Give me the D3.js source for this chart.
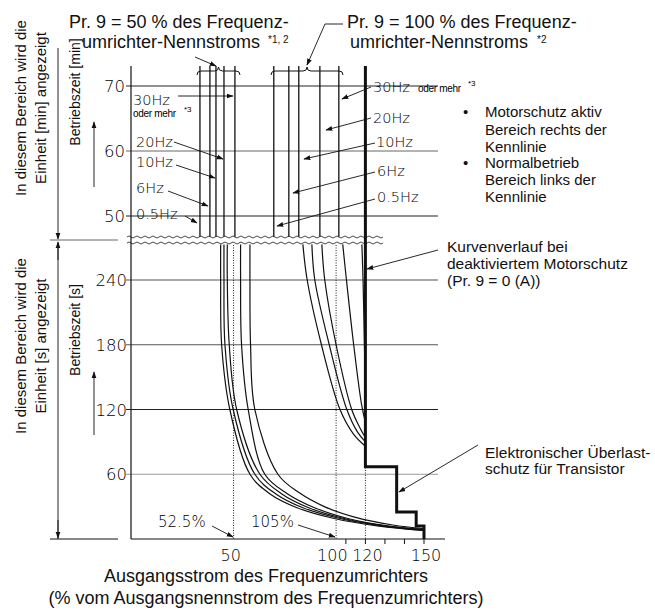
<!DOCTYPE html>
<html>
<head>
<meta charset="utf-8">
<script src="https://cdn.jsdelivr.net/npm/d3@7"></script>
<style>
  body { margin: 0; background: #fff; }
  svg { display: block; }
  .sans { font-family: "Liberation Sans", Arial, sans-serif; }
  .geo { font-family: "DejaVu Sans", sans-serif; font-weight: 300; }
</style>
</head>
<body>
<div id="chart"></div>
<script>
// frequency labels for the curve families
var freqs = ["0.5Hz", "6Hz", "10Hz", "20Hz", "30Hz"];

// minute range: current (%) of each vertical line, Pr.9 = 50 % and 100 %
var min50 = [35.3, 40.4, 43.5, 47.6, 53.2];
var min100 = [73.1, 80.8, 85.9, 96.7, 106.4];

// second range: curves as [current %, seconds]
var sec50 = [
  [[45.9, 273], [45.9, 240], [46.4, 180], [50.6, 120], [60.9, 60], [71, 42], [85, 29], [104, 19], [127, 12], [150, 8]],
  [[47.6, 273], [47.6, 240], [48.1, 180], [52.3, 120], [63.4, 60], [74, 42], [88, 29], [107, 19], [129, 12], [150, 8]],
  [[49.3, 273], [49.3, 240], [50.3, 180], [54.1, 120], [66.0, 60], [77, 42], [91, 29], [109, 19], [131, 12], [150, 8.5]],
  [[56.1, 273], [56.1, 240], [56.6, 180], [60.0, 120], [68.5, 60], [80, 42], [94, 29], [111, 19], [132, 12], [150, 9]],
  [[60.9, 273], [60.9, 240], [61.2, 180], [63.4, 120], [75.2, 60], [86, 43], [99, 30], [115, 20], [134, 13], [150, 9.5]]
];
var sec100 = [
  [[88.0, 273], [90.2, 240], [97.5, 180], [107, 120], [114, 97], [120, 86]],
  [[92.6, 273], [94.1, 240], [101.5, 180], [110.5, 120], [116, 99], [120, 90]],
  [[97.7, 273], [99.2, 240], [105, 180], [113, 120], [117.5, 102], [120, 94]],
  [[108.4, 273], [110.3, 240], [114, 180], [118, 125], [120, 108]],
  [[118.2, 273], [118.8, 240], [119.5, 180], [120, 140]]
];

// transistor overload protection steps [current %, seconds]
var transistor = [[120, 67], [136, 67], [136, 25], [146, 25], [146, 12], [150, 12], [150, 0]];

var minTicks = [50, 60, 70];
var secTicks = [60, 120, 180, 240];
var xLabels = [50, 100, 120, 150];
var xTicks = [110, 120, 130, 140, 150];

var W = 655, H = 610;
var svg = d3.select("#chart").append("svg").attr("width", W).attr("height", H);

var defs = svg.append("defs");
defs.append("marker").attr("id", "arr")
  .attr("viewBox", "0 0 10 10").attr("refX", 9).attr("refY", 5)
  .attr("markerWidth", 7).attr("markerHeight", 7).attr("orient", "auto")
  .attr("markerUnits", "userSpaceOnUse")
  .append("path").attr("d", "M0,1.5 L10,5 L0,8.5 Z").attr("fill", "#111");

var x = d3.scaleLinear().domain([0, 150]).range([131, 424]);
var ySec = d3.scaleLinear().domain([0, 240]).range([539, 280]);
var yMin = d3.scaleLinear().domain([50, 70]).range([216, 86]);

var left = 131, gridRight = 438, topY = 66, breakTop = 237, breakBot = 243, bottom = 539;

// grid lines
var grid = svg.append("g");
minTicks.forEach(function (t) {
  grid.append("line").attr("x1", left - 5).attr("x2", gridRight)
    .attr("y1", yMin(t)).attr("y2", yMin(t))
    .attr("stroke", t == 60 ? "#666" : "#222").attr("stroke-width", 1);
});
secTicks.forEach(function (t) {
  grid.append("line").attr("x1", left - 5).attr("x2", gridRight)
    .attr("y1", ySec(t)).attr("y2", ySec(t))
    .attr("stroke", t == 60 ? "#999" : (t == 120 ? "#222" : "#555")).attr("stroke-width", 1);
});

// dotted reference lines
[52.5, 105, 120].forEach(function (v) {
  svg.append("line").attr("x1", x(v)).attr("x2", x(v))
    .attr("y1", breakBot + 2).attr("y2", bottom)
    .attr("stroke", "#222").attr("stroke-width", 1).attr("stroke-dasharray", "1,1.5");
});

// minute section vertical lines
min50.concat(min100).forEach(function (v) {
  svg.append("line").attr("x1", x(v)).attr("x2", x(v))
    .attr("y1", topY).attr("y2", breakTop)
    .attr("stroke", "#111").attr("stroke-width", 1.3);
});

// second section curves
var line = d3.line()
  .x(function (d) { return x(d[0]); })
  .y(function (d) { return Math.min(ySec(d[1]), bottom); })
  .curve(d3.curveCatmullRom.alpha(0.5));

sec50.concat(sec100).forEach(function (c) {
  svg.append("path").attr("d", line(c)).attr("fill", "none")
    .attr("stroke", "#111").attr("stroke-width", 1.2);
});

// break (wavy lines)
function wave(y0, x0, x1) {
  var p = "M" + x0 + "," + y0;
  for (var xx = x0; xx < x1; xx += 8) {
    p += " q2,-2 4,0 q2,2 4,0";
  }
  return p;
}
svg.append("rect").attr("x", left - 3).attr("y", breakTop).attr("width", 250).attr("height", breakBot - breakTop).attr("fill", "#fff");
[breakTop, breakBot].forEach(function (y0) {
  svg.append("path").attr("d", wave(y0, left - 4, 377)).attr("fill", "none")
    .attr("stroke", "#333").attr("stroke-width", 0.9);
});

// thick line: deactivated motor protection + transistor steps
var thick = [[x(120), topY]].concat(transistor.map(function (d) { return [x(d[0]), ySec(d[1])]; }));
svg.append("path").attr("d", d3.line()(thick)).attr("fill", "none")
  .attr("stroke", "#111").attr("stroke-width", 3).attr("stroke-linejoin", "miter");

// y axis
svg.append("line").attr("x1", left).attr("x2", left).attr("y1", topY).attr("y2", bottom)
  .attr("stroke", "#111").attr("stroke-width", 1.2);
// x axis
svg.append("line").attr("x1", left).attr("x2", 445).attr("y1", bottom).attr("y2", bottom)
  .attr("stroke", "#111").attr("stroke-width", 1.2);
xTicks.forEach(function (t) {
  svg.append("line").attr("x1", x(t)).attr("x2", x(t)).attr("y1", bottom).attr("y2", bottom + 5)
    .attr("stroke", "#111");
});

var geo = svg.append("g").attr("class", "geo").attr("fill", "#000");
minTicks.forEach(function (t) {
  geo.append("text").attr("x", 125).attr("y", yMin(t) + 6).attr("text-anchor", "end")
    .attr("font-size", 16.5).text(t);
});
secTicks.forEach(function (t) {
  geo.append("text").attr("x", 127).attr("y", ySec(t) + 6).attr("text-anchor", "end")
    .attr("font-size", 16.5).text(t);
});
xLabels.forEach(function (t) {
  geo.append("text").attr("x", x(t) + (t == 100 ? 6 : 2)).attr("y", 561).attr("text-anchor", "middle")
    .attr("font-size", 16).text(t);
});

// arrows helper
function arrow(x1, y1, x2, y2) {
  svg.append("line").attr("x1", x1).attr("y1", y1).attr("x2", x2).attr("y2", y2)
    .attr("stroke", "#111").attr("stroke-width", 0.9).attr("marker-end", "url(#arr)");
}

// frequency labels, 50 % group
var lPos = [[136, 219], [136, 193], [136, 167], [136, 147], [133, 105]];
var lArr = [[185, 216, 197, 223], [168, 191, 208, 206], [176, 165, 215, 178], [174, 142, 223, 159], [178, 96, 233, 96]];
freqs.forEach(function (f, i) {
  geo.append("text").attr("x", lPos[i][0]).attr("y", lPos[i][1]).attr("font-size", 14.5).text(f);
  arrow(lArr[i][0], lArr[i][1], lArr[i][2], lArr[i][3]);
});
svg.append("text").attr("class", "sans").attr("x", 133).attr("y", 117).attr("font-size", 10)
  .attr("letter-spacing", -0.3).text("oder mehr");
svg.append("text").attr("class", "sans").attr("x", 184).attr("y", 112).attr("font-size", 8).text("*3");

// frequency labels, 100 % group
var rPos = [[377, 202], [377, 176], [376, 147], [373, 123], [373, 92]];
var rArr = [[375, 199, 277, 226], [375, 172, 293, 193], [375, 143, 304, 159], [371, 118, 326, 130], [371, 87, 342, 99]];
freqs.forEach(function (f, i) {
  geo.append("text").attr("x", rPos[i][0]).attr("y", rPos[i][1]).attr("font-size", 14.5).text(f);
  arrow(rArr[i][0], rArr[i][1], rArr[i][2], rArr[i][3]);
});
svg.append("text").attr("class", "sans").attr("x", 418).attr("y", 92).attr("font-size", 10)
  .attr("letter-spacing", -0.3).text("oder mehr");
svg.append("text").attr("class", "sans").attr("x", 468).attr("y", 86).attr("font-size", 8).text("*3");

// percentage labels at the bottom
geo.append("text").attr("x", 158).attr("y", 527).attr("font-size", 15).text("52.5%");
arrow(212, 526, 233, 537);
geo.append("text").attr("x", 251).attr("y", 527).attr("font-size", 15).text("105%");
arrow(298, 525, 335, 537);

// braces above the two groups
function brace(x1, x2, y) {
  var m = (x1 + x2) / 2;
  return "M" + x1 + "," + (y + 4) + " Q" + x1 + "," + y + " " + (x1 + 4) + "," + y +
    " L" + (m - 4) + "," + y + " Q" + m + "," + y + " " + m + "," + (y - 4) +
    " Q" + m + "," + y + " " + (m + 4) + "," + y +
    " L" + (x2 - 4) + "," + y + " Q" + x2 + "," + y + " " + x2 + "," + (y + 4);
}
svg.append("path").attr("d", brace(197, 240, 71)).attr("fill", "none").attr("stroke", "#111").attr("stroke-width", 1);
svg.append("path").attr("d", brace(271, 343, 71)).attr("fill", "none").attr("stroke", "#111").attr("stroke-width", 1);
arrow(195, 57, 216, 66);
svg.append("line").attr("x1", 343).attr("y1", 24).attr("x2", 325).attr("y2", 24).attr("stroke", "#111").attr("stroke-width", 0.9);
arrow(325, 24, 307, 65);

// titles
var sans = svg.append("g").attr("class", "sans").attr("fill", "#111");
sans.append("text").attr("x", 69).attr("y", 28).attr("font-size", 18).text("Pr. 9 = 50 % des Frequenz-");
sans.append("text").attr("x", 82).attr("y", 48).attr("font-size", 18).text("umrichter-Nennstroms");
sans.append("text").attr("x", 268).attr("y", 43).attr("font-size", 10).text("*1, 2");
sans.append("text").attr("x", 347).attr("y", 28).attr("font-size", 18).text("Pr. 9 = 100 % des Frequenz-");
sans.append("text").attr("x", 350).attr("y", 48).attr("font-size", 18).text("umrichter-Nennstroms");
sans.append("text").attr("x", 537).attr("y", 43).attr("font-size", 10).text("*2");

// legend notes
var notes = [["•", "Motorschutz aktiv", 117], ["", "Bereich rechts der", 134.5], ["", "Kennlinie", 151.5],
  ["•", "Normalbetrieb", 168], ["", "Bereich links der", 185], ["", "Kennlinie", 202]];
notes.forEach(function (n) {
  if (n[0]) sans.append("text").attr("x", 463).attr("y", n[2]).attr("font-size", 15).text(n[0]);
  sans.append("text").attr("x", 485).attr("y", n[2]).attr("font-size", 15).text(n[1]);
});

sans.append("text").attr("x", 447).attr("y", 252).attr("font-size", 15.5).text("Kurvenverlauf bei");
sans.append("text").attr("x", 447).attr("y", 269).attr("font-size", 15.5).text("deaktiviertem Motorschutz");
sans.append("text").attr("x", 447).attr("y", 286).attr("font-size", 15.5).text("(Pr. 9 = 0 (A))");
arrow(438, 250, 367, 269);

sans.append("text").attr("x", 485).attr("y", 458).attr("font-size", 15.5).text("Elektronischer Überlast-");
sans.append("text").attr("x", 485).attr("y", 474).attr("font-size", 15.5).text("schutz für Transistor");
arrow(478, 445, 399, 492);

// x axis title
sans.append("text").attr("x", 266).attr("y", 582).attr("text-anchor", "middle").attr("font-size", 18)
  .text("Ausgangsstrom des Frequenzumrichters");
sans.append("text").attr("x", 266).attr("y", 604).attr("text-anchor", "middle").attr("font-size", 18)
  .text("(% vom Ausgangsnennstrom des Frequenzumrichters)");

// left side annotations
function vtext(cx, cy, s, fs) {
  sans.append("text").attr("transform", "translate(" + cx + "," + cy + ") rotate(-90)")
    .attr("text-anchor", "middle").attr("font-size", fs).text(s);
}
vtext(26, 108, "In diesem Bereich wird die", 15);
vtext(46, 108, "Einheit [min] angezeigt", 15);
vtext(26, 346, "In diesem Bereich wird die", 15);
vtext(46, 346, "Einheit [s] angezeigt", 15);
vtext(80, 92, "Betriebszeit [min]", 14);
vtext(80, 330, "Betriebszeit [s]", 14);

// brackets on the left
svg.append("line").attr("x1", 50).attr("x2", 118).attr("y1", 240).attr("y2", 240).attr("stroke", "#666");
svg.append("line").attr("x1", 50).attr("x2", 118).attr("y1", bottom).attr("y2", bottom).attr("stroke", "#111");
arrow(58, 48, 58, 239);
svg.append("line").attr("x1", 58).attr("x2", 58).attr("y1", 243).attr("y2", bottom).attr("stroke", "#111").attr("stroke-width", 0.9);
arrow(58, 520, 58, bottom - 1);
arrow(58, 260, 58, 242);
arrow(94, 187, 94, 122);
arrow(94, 435, 94, 372);
</script>
</body>
</html>
